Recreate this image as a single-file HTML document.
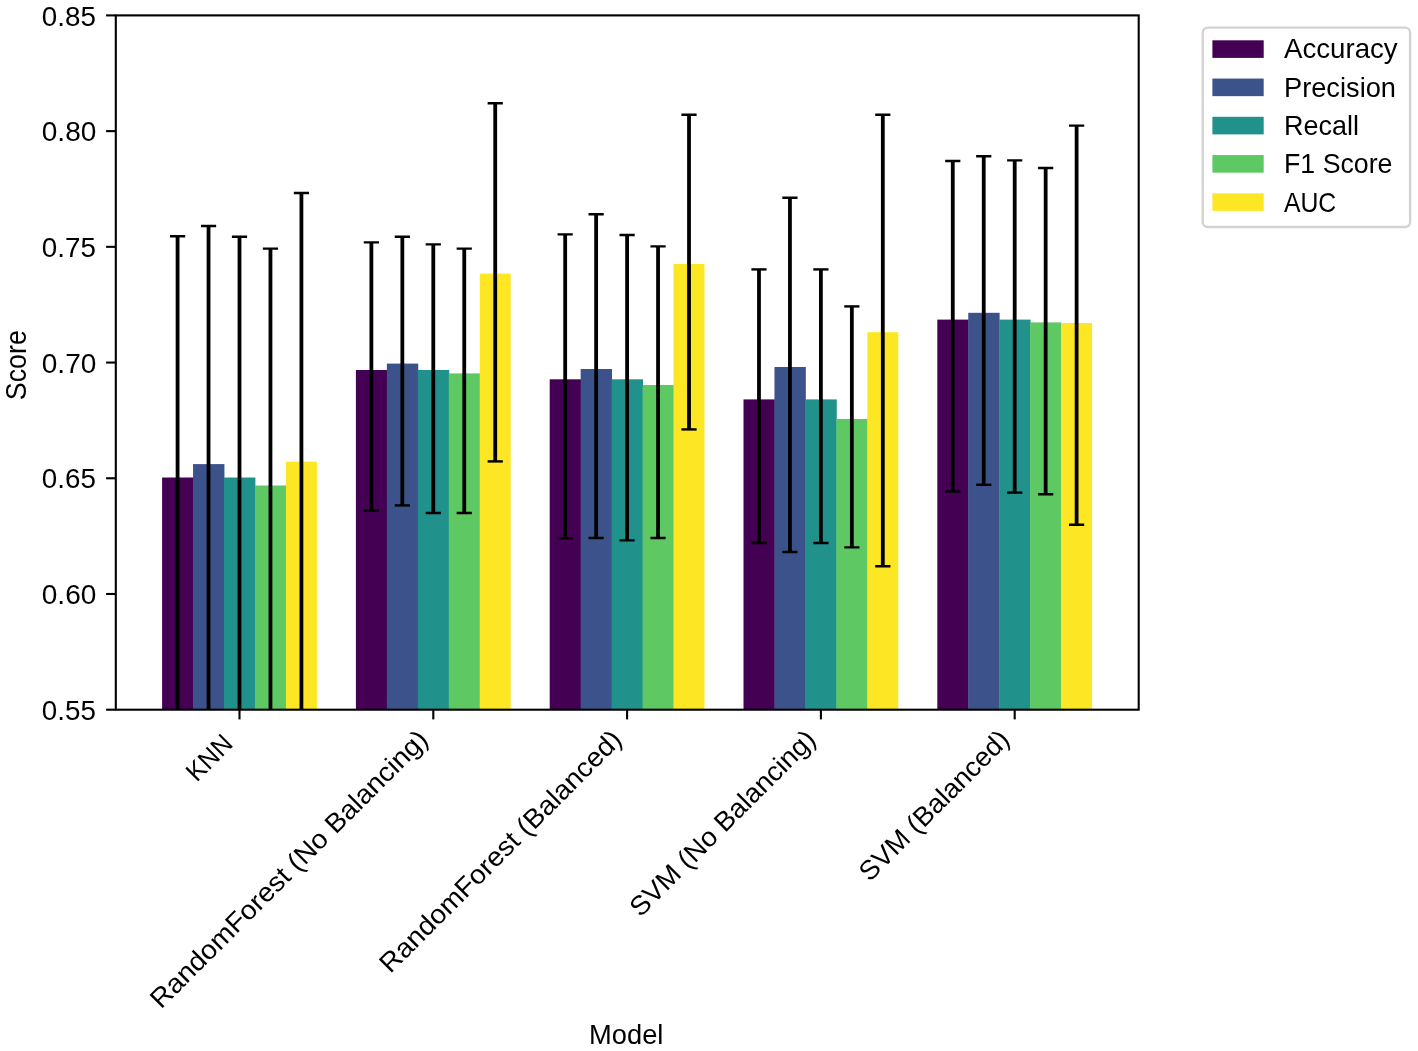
<!DOCTYPE html>
<html lang="en">
<head>
<meta charset="utf-8">
<title>Model performance comparison</title>
<style>
html,body{margin:0;padding:0;background:#fff;}
body{width:1418px;height:1051px;overflow:hidden;font-family:"Liberation Sans",sans-serif;}
svg text{white-space:pre;}
</style>
</head>
<body>
<svg width="1418" height="1051" viewBox="0 0 1418 1051" style="display:block;will-change:transform">
<rect x="0" y="0" width="1418" height="1051" fill="#fff"/>
<defs><clipPath id="ax"><rect x="115.8" y="15.4" width="1022.90" height="694.30"/></clipPath></defs>
<g clip-path="url(#ax)" shape-rendering="auto">
<rect x="162.10" y="477.50" width="31.36" height="232.20" fill="#440154"/>
<rect x="193.06" y="464.10" width="31.36" height="245.60" fill="#3b528b"/>
<rect x="224.02" y="477.50" width="31.36" height="232.20" fill="#21918c"/>
<rect x="254.98" y="485.50" width="31.36" height="224.20" fill="#5ec962"/>
<rect x="285.94" y="461.70" width="30.96" height="248.00" fill="#fde725"/>
<rect x="355.90" y="370.00" width="31.36" height="339.70" fill="#440154"/>
<rect x="386.86" y="363.60" width="31.36" height="346.10" fill="#3b528b"/>
<rect x="417.82" y="370.00" width="31.36" height="339.70" fill="#21918c"/>
<rect x="448.78" y="373.40" width="31.36" height="336.30" fill="#5ec962"/>
<rect x="479.74" y="273.60" width="30.96" height="436.10" fill="#fde725"/>
<rect x="549.70" y="379.30" width="31.36" height="330.40" fill="#440154"/>
<rect x="580.66" y="369.00" width="31.36" height="340.70" fill="#3b528b"/>
<rect x="611.62" y="379.30" width="31.36" height="330.40" fill="#21918c"/>
<rect x="642.58" y="385.00" width="31.36" height="324.70" fill="#5ec962"/>
<rect x="673.54" y="264.00" width="30.96" height="445.70" fill="#fde725"/>
<rect x="743.50" y="399.40" width="31.36" height="310.30" fill="#440154"/>
<rect x="774.46" y="367.00" width="31.36" height="342.70" fill="#3b528b"/>
<rect x="805.42" y="399.40" width="31.36" height="310.30" fill="#21918c"/>
<rect x="836.38" y="419.00" width="31.36" height="290.70" fill="#5ec962"/>
<rect x="867.34" y="332.20" width="30.96" height="377.50" fill="#fde725"/>
<rect x="937.30" y="319.60" width="31.36" height="390.10" fill="#440154"/>
<rect x="968.26" y="312.80" width="31.36" height="396.90" fill="#3b528b"/>
<rect x="999.22" y="319.60" width="31.36" height="390.10" fill="#21918c"/>
<rect x="1030.18" y="322.40" width="31.36" height="387.30" fill="#5ec962"/>
<rect x="1061.14" y="323.00" width="30.96" height="386.70" fill="#fde725"/>
<line x1="177.58" y1="236.20" x2="177.58" y2="730.00" stroke="#000" stroke-width="3.8"/>
<line x1="169.98" y1="236.20" x2="185.18" y2="236.20" stroke="#000" stroke-width="2.4"/>
<line x1="169.98" y1="730.00" x2="185.18" y2="730.00" stroke="#000" stroke-width="2.4"/>
<line x1="208.54" y1="226.00" x2="208.54" y2="730.00" stroke="#000" stroke-width="3.8"/>
<line x1="200.94" y1="226.00" x2="216.14" y2="226.00" stroke="#000" stroke-width="2.4"/>
<line x1="200.94" y1="730.00" x2="216.14" y2="730.00" stroke="#000" stroke-width="2.4"/>
<line x1="239.50" y1="236.80" x2="239.50" y2="730.00" stroke="#000" stroke-width="3.8"/>
<line x1="231.90" y1="236.80" x2="247.10" y2="236.80" stroke="#000" stroke-width="2.4"/>
<line x1="231.90" y1="730.00" x2="247.10" y2="730.00" stroke="#000" stroke-width="2.4"/>
<line x1="270.46" y1="248.60" x2="270.46" y2="730.00" stroke="#000" stroke-width="3.8"/>
<line x1="262.86" y1="248.60" x2="278.06" y2="248.60" stroke="#000" stroke-width="2.4"/>
<line x1="262.86" y1="730.00" x2="278.06" y2="730.00" stroke="#000" stroke-width="2.4"/>
<line x1="301.42" y1="193.00" x2="301.42" y2="730.00" stroke="#000" stroke-width="3.8"/>
<line x1="293.82" y1="193.00" x2="309.02" y2="193.00" stroke="#000" stroke-width="2.4"/>
<line x1="293.82" y1="730.00" x2="309.02" y2="730.00" stroke="#000" stroke-width="2.4"/>
<line x1="371.38" y1="242.40" x2="371.38" y2="510.80" stroke="#000" stroke-width="3.8"/>
<line x1="363.78" y1="242.40" x2="378.98" y2="242.40" stroke="#000" stroke-width="2.4"/>
<line x1="363.78" y1="510.80" x2="378.98" y2="510.80" stroke="#000" stroke-width="2.4"/>
<line x1="402.34" y1="236.80" x2="402.34" y2="505.40" stroke="#000" stroke-width="3.8"/>
<line x1="394.74" y1="236.80" x2="409.94" y2="236.80" stroke="#000" stroke-width="2.4"/>
<line x1="394.74" y1="505.40" x2="409.94" y2="505.40" stroke="#000" stroke-width="2.4"/>
<line x1="433.30" y1="244.40" x2="433.30" y2="513.00" stroke="#000" stroke-width="3.8"/>
<line x1="425.70" y1="244.40" x2="440.90" y2="244.40" stroke="#000" stroke-width="2.4"/>
<line x1="425.70" y1="513.00" x2="440.90" y2="513.00" stroke="#000" stroke-width="2.4"/>
<line x1="464.26" y1="248.60" x2="464.26" y2="513.00" stroke="#000" stroke-width="3.8"/>
<line x1="456.66" y1="248.60" x2="471.86" y2="248.60" stroke="#000" stroke-width="2.4"/>
<line x1="456.66" y1="513.00" x2="471.86" y2="513.00" stroke="#000" stroke-width="2.4"/>
<line x1="495.22" y1="103.20" x2="495.22" y2="461.40" stroke="#000" stroke-width="3.8"/>
<line x1="487.62" y1="103.20" x2="502.82" y2="103.20" stroke="#000" stroke-width="2.4"/>
<line x1="487.62" y1="461.40" x2="502.82" y2="461.40" stroke="#000" stroke-width="2.4"/>
<line x1="565.18" y1="234.40" x2="565.18" y2="538.40" stroke="#000" stroke-width="3.8"/>
<line x1="557.58" y1="234.40" x2="572.78" y2="234.40" stroke="#000" stroke-width="2.4"/>
<line x1="557.58" y1="538.40" x2="572.78" y2="538.40" stroke="#000" stroke-width="2.4"/>
<line x1="596.14" y1="214.20" x2="596.14" y2="538.00" stroke="#000" stroke-width="3.8"/>
<line x1="588.54" y1="214.20" x2="603.74" y2="214.20" stroke="#000" stroke-width="2.4"/>
<line x1="588.54" y1="538.00" x2="603.74" y2="538.00" stroke="#000" stroke-width="2.4"/>
<line x1="627.10" y1="235.00" x2="627.10" y2="540.40" stroke="#000" stroke-width="3.8"/>
<line x1="619.50" y1="235.00" x2="634.70" y2="235.00" stroke="#000" stroke-width="2.4"/>
<line x1="619.50" y1="540.40" x2="634.70" y2="540.40" stroke="#000" stroke-width="2.4"/>
<line x1="658.06" y1="246.40" x2="658.06" y2="538.00" stroke="#000" stroke-width="3.8"/>
<line x1="650.46" y1="246.40" x2="665.66" y2="246.40" stroke="#000" stroke-width="2.4"/>
<line x1="650.46" y1="538.00" x2="665.66" y2="538.00" stroke="#000" stroke-width="2.4"/>
<line x1="689.02" y1="114.80" x2="689.02" y2="429.40" stroke="#000" stroke-width="3.8"/>
<line x1="681.42" y1="114.80" x2="696.62" y2="114.80" stroke="#000" stroke-width="2.4"/>
<line x1="681.42" y1="429.40" x2="696.62" y2="429.40" stroke="#000" stroke-width="2.4"/>
<line x1="758.98" y1="269.40" x2="758.98" y2="543.00" stroke="#000" stroke-width="3.8"/>
<line x1="751.38" y1="269.40" x2="766.58" y2="269.40" stroke="#000" stroke-width="2.4"/>
<line x1="751.38" y1="543.00" x2="766.58" y2="543.00" stroke="#000" stroke-width="2.4"/>
<line x1="789.94" y1="197.80" x2="789.94" y2="552.00" stroke="#000" stroke-width="3.8"/>
<line x1="782.34" y1="197.80" x2="797.54" y2="197.80" stroke="#000" stroke-width="2.4"/>
<line x1="782.34" y1="552.00" x2="797.54" y2="552.00" stroke="#000" stroke-width="2.4"/>
<line x1="820.90" y1="269.40" x2="820.90" y2="543.00" stroke="#000" stroke-width="3.8"/>
<line x1="813.30" y1="269.40" x2="828.50" y2="269.40" stroke="#000" stroke-width="2.4"/>
<line x1="813.30" y1="543.00" x2="828.50" y2="543.00" stroke="#000" stroke-width="2.4"/>
<line x1="851.86" y1="306.40" x2="851.86" y2="547.40" stroke="#000" stroke-width="3.8"/>
<line x1="844.26" y1="306.40" x2="859.46" y2="306.40" stroke="#000" stroke-width="2.4"/>
<line x1="844.26" y1="547.40" x2="859.46" y2="547.40" stroke="#000" stroke-width="2.4"/>
<line x1="882.82" y1="114.80" x2="882.82" y2="566.20" stroke="#000" stroke-width="3.8"/>
<line x1="875.22" y1="114.80" x2="890.42" y2="114.80" stroke="#000" stroke-width="2.4"/>
<line x1="875.22" y1="566.20" x2="890.42" y2="566.20" stroke="#000" stroke-width="2.4"/>
<line x1="952.78" y1="161.00" x2="952.78" y2="491.50" stroke="#000" stroke-width="3.8"/>
<line x1="945.18" y1="161.00" x2="960.38" y2="161.00" stroke="#000" stroke-width="2.4"/>
<line x1="945.18" y1="491.50" x2="960.38" y2="491.50" stroke="#000" stroke-width="2.4"/>
<line x1="983.74" y1="156.30" x2="983.74" y2="484.80" stroke="#000" stroke-width="3.8"/>
<line x1="976.14" y1="156.30" x2="991.34" y2="156.30" stroke="#000" stroke-width="2.4"/>
<line x1="976.14" y1="484.80" x2="991.34" y2="484.80" stroke="#000" stroke-width="2.4"/>
<line x1="1014.70" y1="160.40" x2="1014.70" y2="492.60" stroke="#000" stroke-width="3.8"/>
<line x1="1007.10" y1="160.40" x2="1022.30" y2="160.40" stroke="#000" stroke-width="2.4"/>
<line x1="1007.10" y1="492.60" x2="1022.30" y2="492.60" stroke="#000" stroke-width="2.4"/>
<line x1="1045.66" y1="168.00" x2="1045.66" y2="494.20" stroke="#000" stroke-width="3.8"/>
<line x1="1038.06" y1="168.00" x2="1053.26" y2="168.00" stroke="#000" stroke-width="2.4"/>
<line x1="1038.06" y1="494.20" x2="1053.26" y2="494.20" stroke="#000" stroke-width="2.4"/>
<line x1="1076.62" y1="125.60" x2="1076.62" y2="524.70" stroke="#000" stroke-width="3.8"/>
<line x1="1069.02" y1="125.60" x2="1084.22" y2="125.60" stroke="#000" stroke-width="2.4"/>
<line x1="1069.02" y1="524.70" x2="1084.22" y2="524.70" stroke="#000" stroke-width="2.4"/>
</g>
<rect x="115.8" y="15.4" width="1022.90" height="694.30" fill="none" stroke="#000" stroke-width="2.1" stroke-linejoin="miter"/>
<line x1="106.10" y1="15.40" x2="115.8" y2="15.40" stroke="#000" stroke-width="2.1"/>
<line x1="106.10" y1="131.12" x2="115.8" y2="131.12" stroke="#000" stroke-width="2.1"/>
<line x1="106.10" y1="246.83" x2="115.8" y2="246.83" stroke="#000" stroke-width="2.1"/>
<line x1="106.10" y1="362.55" x2="115.8" y2="362.55" stroke="#000" stroke-width="2.1"/>
<line x1="106.10" y1="478.27" x2="115.8" y2="478.27" stroke="#000" stroke-width="2.1"/>
<line x1="106.10" y1="593.98" x2="115.8" y2="593.98" stroke="#000" stroke-width="2.1"/>
<line x1="106.10" y1="709.70" x2="115.8" y2="709.70" stroke="#000" stroke-width="2.1"/>
<line x1="239.50" y1="709.7" x2="239.50" y2="719.40" stroke="#000" stroke-width="2.1"/>
<line x1="433.30" y1="709.7" x2="433.30" y2="719.40" stroke="#000" stroke-width="2.1"/>
<line x1="627.10" y1="709.7" x2="627.10" y2="719.40" stroke="#000" stroke-width="2.1"/>
<line x1="820.90" y1="709.7" x2="820.90" y2="719.40" stroke="#000" stroke-width="2.1"/>
<line x1="1014.70" y1="709.7" x2="1014.70" y2="719.40" stroke="#000" stroke-width="2.1"/>
<g font-family="'Liberation Sans', sans-serif" font-size="27.6px" fill="#000">
<text x="41.80" y="26.00" font-size="28.2px" textLength="54.08" lengthAdjust="spacingAndGlyphs">0.85</text>
<text x="41.79" y="141.00" font-size="28.2px" textLength="54.55" lengthAdjust="spacingAndGlyphs">0.80</text>
<text x="41.80" y="257.00" font-size="28.2px" textLength="54.08" lengthAdjust="spacingAndGlyphs">0.75</text>
<text x="41.79" y="373.00" font-size="28.2px" textLength="54.55" lengthAdjust="spacingAndGlyphs">0.70</text>
<text x="41.80" y="488.00" font-size="28.2px" textLength="54.08" lengthAdjust="spacingAndGlyphs">0.65</text>
<text x="41.79" y="604.00" font-size="28.2px" textLength="54.55" lengthAdjust="spacingAndGlyphs">0.60</text>
<text x="41.80" y="720.00" font-size="28.2px" textLength="54.08" lengthAdjust="spacingAndGlyphs">0.55</text>
<g transform="translate(25.8,365.3) rotate(-90)"><text x="-34.85" y="0.00" font-size="28.6px" textLength="70.00" lengthAdjust="spacingAndGlyphs">Score</text></g>
<text x="589.08" y="1044.00" font-size="27.6px" textLength="74.33" lengthAdjust="spacingAndGlyphs">Model</text>
<g transform="translate(234.60,745.00) rotate(-45)"><text x="-53.40" y="0.00" font-size="26.5px" textLength="52.99" lengthAdjust="spacingAndGlyphs">KNN</text></g>
<g transform="translate(430.00,740.80) rotate(-45)"><text x="-380.41" y="0.00" font-size="26.923999999999996px" textLength="379.97" lengthAdjust="spacingAndGlyphs">RandomForest (No Balancing)</text></g>
<g transform="translate(623.80,740.80) rotate(-45)"><text x="-330.26" y="0.00" font-size="26.923999999999996px" textLength="329.82" lengthAdjust="spacingAndGlyphs">RandomForest (Balanced)</text></g>
<g transform="translate(817.60,740.80) rotate(-45)"><text x="-250.45" y="0.00" font-size="26.923999999999996px" textLength="249.98" lengthAdjust="spacingAndGlyphs">SVM (No Balancing)</text></g>
<g transform="translate(1011.40,740.80) rotate(-45)"><text x="-200.30" y="0.00" font-size="26.923999999999996px" textLength="199.82" lengthAdjust="spacingAndGlyphs">SVM (Balanced)</text></g>
</g>
<rect x="1202.7" y="27.6" width="207.40" height="199.40" rx="5" ry="5" fill="#fff" stroke="#d3d3d3" stroke-width="2.4"/>
<g font-family="'Liberation Sans', sans-serif" font-size="27.6px" fill="#000">
<rect x="1212.4" y="40.30" width="51.3" height="17.6" fill="#440154"/>
<text x="1283.94" y="58.00" font-size="27.6px" textLength="113.74" lengthAdjust="spacingAndGlyphs">Accuracy</text>
<rect x="1212.4" y="78.55" width="51.3" height="17.6" fill="#3b528b"/>
<text x="1284.02" y="97.00" font-size="27.6px" textLength="111.96" lengthAdjust="spacingAndGlyphs">Precision</text>
<rect x="1212.4" y="116.80" width="51.3" height="17.6" fill="#21918c"/>
<text x="1284.04" y="135.00" font-size="27.6px" textLength="74.93" lengthAdjust="spacingAndGlyphs">Recall</text>
<rect x="1212.4" y="155.05" width="51.3" height="17.6" fill="#5ec962"/>
<text x="1284.06" y="173.00" font-size="27.6px" textLength="108.40" lengthAdjust="spacingAndGlyphs">F1 Score</text>
<rect x="1212.4" y="193.30" width="51.3" height="17.6" fill="#fde725"/>
<text x="1283.95" y="212.00" font-size="27.6px" textLength="52.30" lengthAdjust="spacingAndGlyphs">AUC</text>
</g>
</svg>
</body>
</html>
